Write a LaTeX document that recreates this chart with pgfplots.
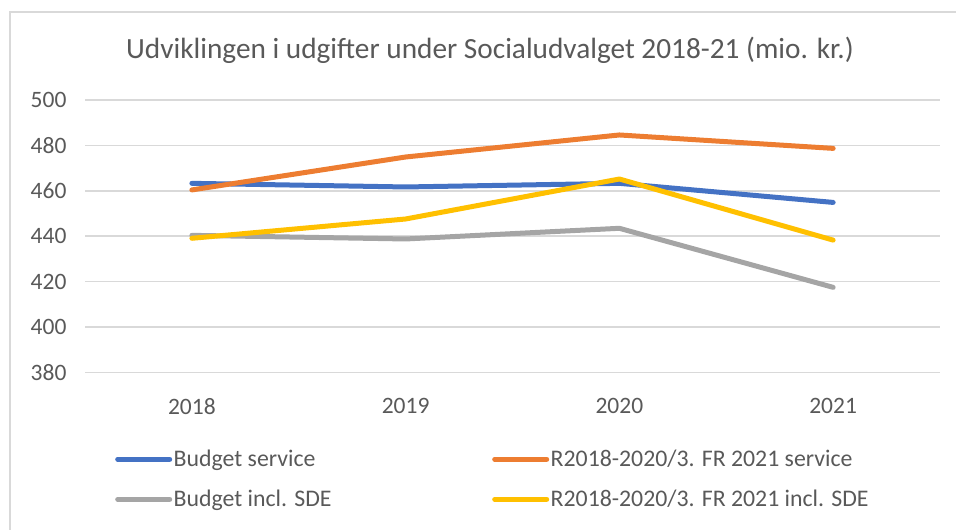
\documentclass[border=0pt]{standalone}
\usepackage{pgfplots}
\pgfplotsset{compat=1.18}
\usepackage{fontspec}
\setmainfont{Carlito}
\definecolor{txtgray}{HTML}{595959}
\definecolor{gridgray}{HTML}{D9D9D9}
\definecolor{cblue}{HTML}{4472C4}
\definecolor{corange}{HTML}{ED7D31}
\definecolor{cgray}{HTML}{A5A5A5}
\definecolor{cyellow}{HTML}{FFC000}
\begin{document}
\begin{tikzpicture}[x=1pt,y=1pt]
\path[use as bounding box] (0,0) rectangle (956,530);
\draw[gridgray, line width=1.5pt] (10,0) -- (10,518) -- (956,518);
\node[txtgray, font=\fontsize{29.3}{34}\selectfont] at (490,480) {Udviklingen i udgifter under Socialudvalget 2018-21 (mio. kr.)};
\begin{axis}[
  at={(85pt,157.5pt)}, anchor=south west,
  width=855pt, height=272.5pt, scale only axis,
  xmin=-0.5, xmax=3.5, ymin=380, ymax=500,
  xtick={0,1,2,3}, xticklabels={2018,2019,2020,2021},
  ytick={380,400,...,500},
  ymajorgrids, grid style={gridgray, line width=1.5pt},
  axis line style={draw=none}, major tick length=0pt,
  tick label style={txtgray, font=\fontsize{23.5}{28}\selectfont},
  /pgf/number format/assume math mode=true,
  yticklabel style={xshift=-15pt},
  xticklabel style={yshift=-22pt},
  clip=false,
  legend columns=2,
  legend image code/.code={\draw[#1, line width=5pt, line cap=round] (0pt,0pt) -- (52pt,0pt);},
  legend style={at={(30pt,-76pt)}, anchor=north west, draw=none, fill=none,
    font=\fontsize{23.8}{28}\selectfont, text=txtgray,
    row sep=19pt, inner sep=0pt, nodes={inner sep=1.5pt},
    cells={anchor=west}},
]
\addplot[cblue, line width=5pt, line cap=round, line join=round] coordinates {(0,463.3) (1,461.7) (2,463.3) (3,454.9)};
\addlegendentry{\makebox[317pt][l]{Budget service}}
\addplot[corange, line width=5pt, line cap=round, line join=round] coordinates {(0,460.4) (1,474.9) (2,484.6) (3,478.7)};
\addlegendentry{R2018-2020/3. FR 2021 service}
\addplot[cgray, line width=5pt, line cap=round, line join=round] coordinates {(0,440.4) (1,438.8) (2,443.5) (3,417.5)};
\addlegendentry{\makebox[317pt][l]{Budget incl. SDE}}
\addplot[cyellow, line width=5pt, line cap=round, line join=round] coordinates {(0,439.1) (1,447.6) (2,465.2) (3,438.3)};
\addlegendentry{R2018-2020/3. FR 2021 incl. SDE}
\end{axis}
\end{tikzpicture}
\end{document}
